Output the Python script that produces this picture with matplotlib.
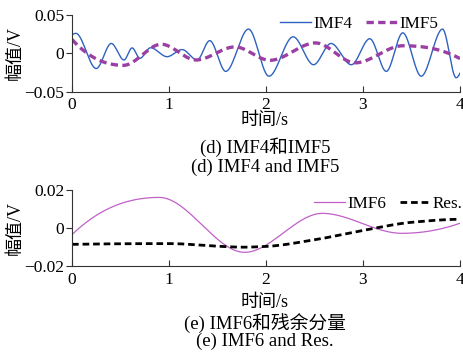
import numpy as np
import matplotlib
matplotlib.use("Agg")
import matplotlib.pyplot as plt

plt.rcParams['font.family'] = ['Liberation Serif', 'Noto Sans CJK SC']
plt.rcParams['axes.unicode_minus'] = True

# ---- data ----
imf4_t = [0, 0.04, 0.25, 0.405, 0.536, 0.62, 0.70, 0.81, 0.98, 1.135, 1.29, 1.42, 1.585,
          1.82, 2.03, 2.28, 2.49, 2.67, 2.88, 3.07, 3.24, 3.41, 3.60, 3.82, 3.96, 4.0]
imf4_v = [0.024, 0.026, -0.020, 0.0128, -0.0088, 0.007, -0.0066, 0.0072, -0.0045, 0.0048,
          -0.0088, 0.0165, -0.0237, 0.0316, -0.030, 0.0215, -0.015, 0.0128, -0.015, 0.019,
          -0.0237, 0.0267, -0.030, 0.0316, -0.032, -0.026]

imf5_t = [0, 0.53, 0.92, 1.28, 1.68, 2.04, 2.51, 2.92, 3.41, 4.0]
imf5_v = [0.018, -0.0158, 0.0118, -0.0088, 0.0083, -0.0092, 0.0135, -0.0125, 0.0098, -0.007]

imf6_t = [0, 0.90, 1.78, 2.58, 3.40, 4.0]
imf6_v = [-0.0035, 0.0161, -0.0128, 0.0077, -0.0028, 0.0025]

res_t = [0, 0.5, 1.0, 1.5, 1.75, 2.0, 2.5, 3.0, 3.5, 4.0]
res_v = [-0.0086, -0.0083, -0.0082, -0.0096, -0.0101, -0.0097, -0.0062, -0.0013, 0.0030, 0.0046]

xticks = [0, 1, 2, 3, 4]
yticks_top = [-0.05, 0, 0.05]
ytick_top_labels = ['−0.05', '0', '0.05']
yticks_bot = [-0.02, 0, 0.02]
ytick_bot_labels = ['−0.02', '0', '0.02']


def pchip(x, y, xs):
    x = np.asarray(x, float); y = np.asarray(y, float)
    h = np.diff(x); delta = np.diff(y) / h
    n = len(x)
    d = np.zeros(n)
    for k in range(1, n - 1):
        if delta[k - 1] * delta[k] > 0:
            w1 = 2 * h[k] + h[k - 1]
            w2 = h[k] + 2 * h[k - 1]
            d[k] = (w1 + w2) / (w1 / delta[k - 1] + w2 / delta[k])
    def endslope(h0, h1, d0, d1):
        s = ((2 * h0 + h1) * d0 - h0 * d1) / (h0 + h1)
        if np.sign(s) != np.sign(d0):
            s = 0
        elif np.sign(d0) != np.sign(d1) and abs(s) > abs(3 * d0):
            s = 3 * d0
        return s
    if n > 2:
        d[0] = endslope(h[0], h[1], delta[0], delta[1])
        d[-1] = endslope(h[-1], h[-2], delta[-1], delta[-2])
    else:
        d[:] = delta[0]
    idx = np.clip(np.searchsorted(x, xs) - 1, 0, n - 2)
    t = (xs - x[idx]) / h[idx]
    h00 = 2 * t**3 - 3 * t**2 + 1
    h10 = t**3 - 2 * t**2 + t
    h01 = -2 * t**3 + 3 * t**2
    h11 = t**3 - t**2
    return h00 * y[idx] + h10 * h[idx] * d[idx] + h01 * y[idx + 1] + h11 * h[idx] * d[idx + 1]


ts = np.linspace(0, 4, 1200)

fig = plt.figure(figsize=(4.64, 3.62), dpi=100)
W, H = 464, 362
ax1 = fig.add_axes([72 / W, 1 - 91.5 / H, 388 / W, 76.5 / H])
ax2 = fig.add_axes([72 / W, 1 - 266 / H, 388 / W, 76 / H])

ax1.plot(ts, pchip(imf4_t, imf4_v, ts), color='#2e62c0', lw=1.0, label='IMF4')
ax1.plot(ts, pchip(imf5_t, imf5_v, ts), color='#9a3fa3', lw=2.4,
         linestyle=(0, (2.2, 1.3)), label='IMF5')
ax2.plot(ts, pchip(imf6_t, imf6_v, ts), color='#c060c8', lw=0.9, label='IMF6')
ax2.plot(ts, pchip(res_t, res_v, ts), color='black', lw=2.0,
         linestyle=(0, (2.4, 1.4)), label='Res.')

for ax, yt, ytl, ylim, anchor in [(ax1, yticks_top, ytick_top_labels, (-0.05, 0.05), (0.962, 1.08)),
                                  (ax2, yticks_bot, ytick_bot_labels, (-0.02, 0.02), (1.025, 1.015))]:
    ax.set_xlim(0, 4)
    ax.set_ylim(*ylim)
    ax.set_xticks(xticks)
    ax.set_xticklabels([str(v) for v in xticks])
    ax.set_yticks(yt)
    ax.set_yticklabels(ytl)
    for s in ['top', 'right']:
        ax.spines[s].set_visible(False)
    for s in ['left', 'bottom']:
        ax.spines[s].set_color('#333333')
        ax.spines[s].set_linewidth(0.8)
    ax.tick_params(axis='x', direction='in', length=4, width=0.8, color='#333333',
                   labelsize=12.5, pad=4)
    ax.tick_params(axis='y', direction='out', length=4, width=0.8, color='#333333',
                   labelsize=12.5, pad=1.5)
    ax.set_ylabel('幅值/V', fontsize=13, labelpad=1)
    ax.yaxis.set_label_coords(-0.125, 0.5)
    ax.legend(loc='upper right', ncol=2, frameon=False, fontsize=12.3,
              handlelength=1.8, handletextpad=0.15, columnspacing=0.8,
              borderaxespad=0.0, bbox_to_anchor=anchor)

fig.text(265 / W, 1 - 121 / H, '时间/s', ha='center', va='center', fontsize=13)
fig.text(265 / W, 1 - 147 / H, '(d) IMF4和IMF5', ha='center', va='center', fontsize=13.5)
fig.text(265 / W, 1 - 167 / H, '(d) IMF4 and IMF5', ha='center', va='center', fontsize=13.5)
fig.text(265 / W, 1 - 303 / H, '时间/s', ha='center', va='center', fontsize=13)
fig.text(265 / W, 1 - 323.5 / H, '(e) IMF6和残余分量', ha='center', va='center', fontsize=13.5)
fig.text(265 / W, 1 - 341 / H, '(e) IMF6 and Res.', ha='center', va='center', fontsize=13.5)

fig.savefig('out.png', dpi=100)
